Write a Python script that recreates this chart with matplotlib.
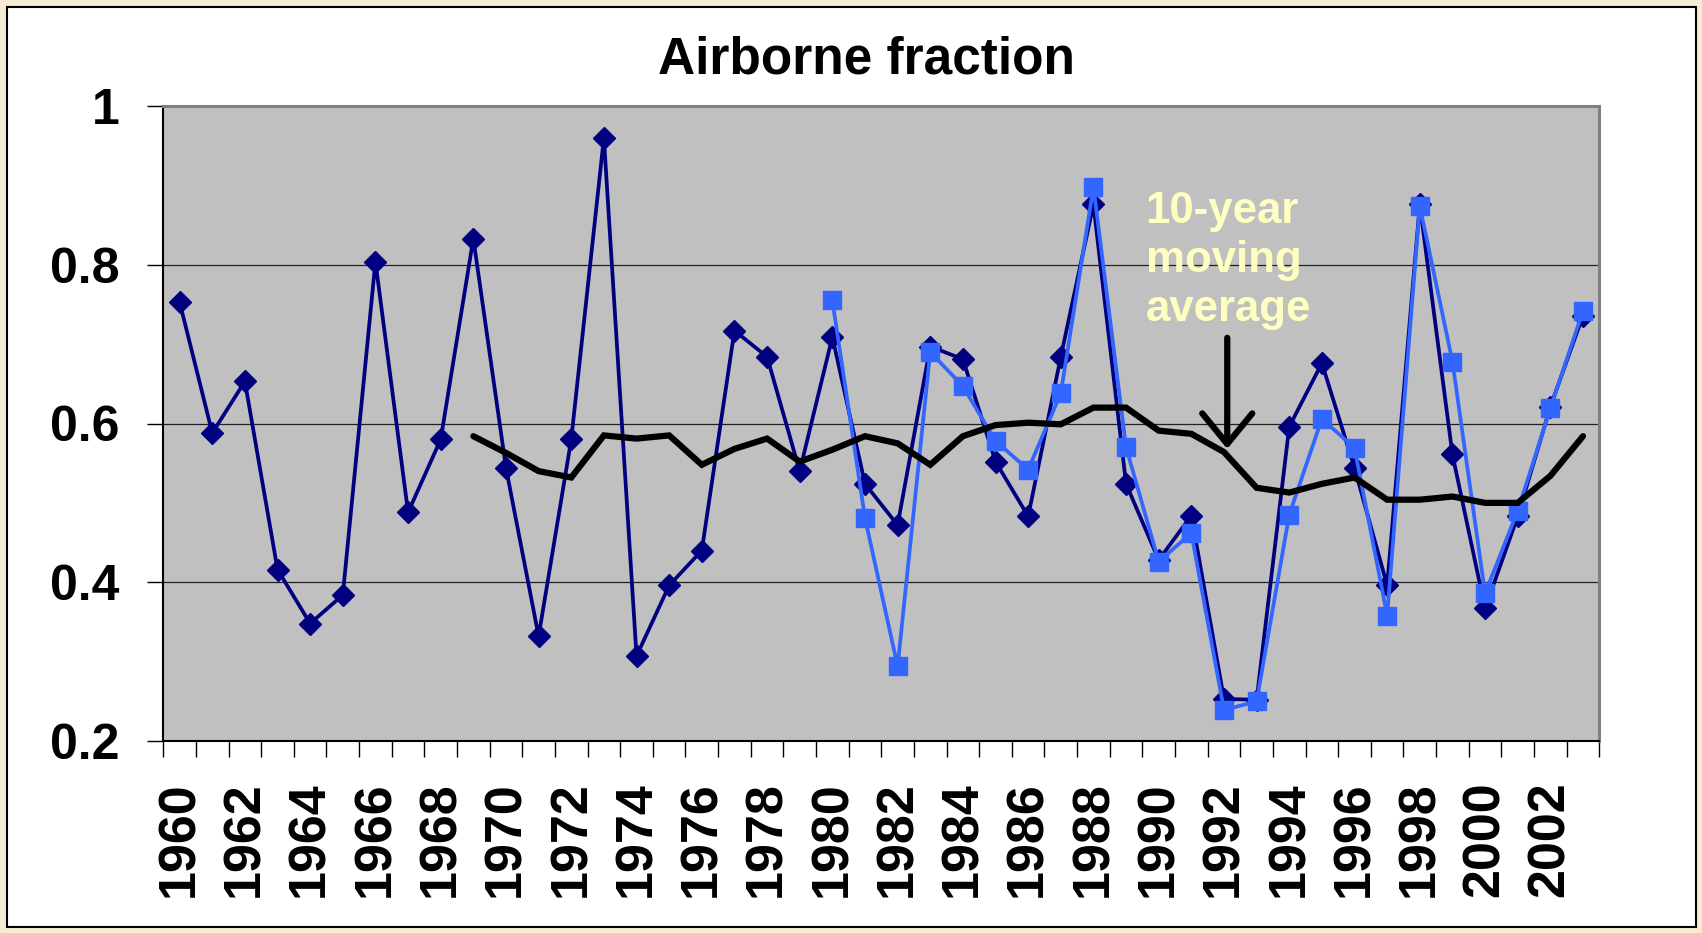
import numpy as np
import matplotlib
matplotlib.use("Agg")
from matplotlib import pyplot as plt
from matplotlib.patches import Rectangle

plt.rcParams['font.family'] = ['Liberation Sans', 'DejaVu Sans']
plt.rcParams['font.weight'] = 'bold'

years = list(range(1960, 2004))
tick_labels = ["1960", "1962", "1964", "1966", "1968", "1970", "1972", "1974",
               "1976", "1978", "1980", "1982", "1984", "1986", "1988", "1990",
               "1992", "1994", "1996", "1998", "2000", "2002"]

# airborne fraction, 1960-2003 (navy diamonds)
af_navy = [0.753, 0.588, 0.653, 0.416, 0.348, 0.384, 0.804, 0.488, 0.580, 0.833,
           0.544, 0.332, 0.580, 0.960, 0.307, 0.396, 0.440, 0.717, 0.684, 0.540,
           0.709, 0.524, 0.472, 0.697, 0.681, 0.552, 0.483, 0.684, 0.876, 0.524,
           0.428, 0.484, 0.253, 0.252, 0.596, 0.676, 0.544, 0.396, 0.876, 0.561,
           0.367, 0.483, 0.621, 0.736]

# second estimate, 1980-2003 (light blue squares)
af_blue_start = 1980
af_blue = [0.755, 0.481, 0.294, 0.690, 0.647, 0.578, 0.542, 0.638, 0.898, 0.570,
           0.426, 0.462, 0.239, 0.250, 0.485, 0.606, 0.569, 0.358, 0.874, 0.678,
           0.386, 0.490, 0.619, 0.742]

# 10-year moving average, 1969-2003
ma_start = 1969
ma10 = [0.584, 0.563, 0.540, 0.532, 0.585, 0.581, 0.585, 0.548, 0.568, 0.581,
        0.552, 0.567, 0.584, 0.575, 0.548, 0.584, 0.598, 0.601, 0.599, 0.620,
        0.620, 0.591, 0.587, 0.564, 0.519, 0.513, 0.524, 0.532, 0.504, 0.504,
        0.508, 0.500, 0.500, 0.534, 0.584]

W, H = 1702, 933
fig = plt.figure(figsize=(W / 100, H / 100), dpi=100)
fig.patch.set_facecolor('#F7ECD3')
fig.patches.append(Rectangle((7 / W, 1 - 927 / H), (1696 - 7) / W, (927 - 7) / H,
                             transform=fig.transFigure, facecolor='white',
                             edgecolor='black', linewidth=1.5, zorder=-5))

left, right, top, bottom = 163.3, 1599.3, 106, 741
ax = fig.add_axes([left / W, 1 - bottom / H, (right - left) / W, (bottom - top) / H])
ax.set_facecolor('#C0C0C0')

idx = np.arange(len(years))
blue_x = idx[years.index(af_blue_start):]
ma_x = idx[years.index(ma_start):]

ax.plot(idx, af_navy, '-', color='#000080', lw=2.7, marker='D', ms=11.5,
        markerfacecolor='#000080', markeredgecolor='#000080', zorder=3)
ax.plot(blue_x, af_blue, '-', color='#3366FF', lw=2.7, marker='s', ms=13,
        markerfacecolor='#3366FF', markeredgecolor='#3366FF', zorder=4)
ax.plot(ma_x, ma10, '-', color='black', lw=4.5, solid_joinstyle='miter',
        solid_capstyle='round', zorder=5)

ax.set_xlim(-0.5, len(years) - 0.5)
ax.set_ylim(0.2, 1.0)

# y axis
ax.set_yticks([0.2, 0.4, 0.6, 0.8, 1.0], ["0.2", "0.4", "0.6", "0.8", "1"])
ax.tick_params(axis='y', direction='out', length=11.5, width=1, pad=20,
               labelsize=36, colors='black')
ax.yaxis.grid(True, color='#222222', lw=0.9)
ax.set_axisbelow(True)

# x axis: ticks between categories, labels every second year
ax.set_xticks(np.arange(-0.5, len(years), 1.0), [])
ax.tick_params(axis='x', which='major', direction='out', length=11.5, width=1)
ax.set_xticks(idx[::2], tick_labels, minor=True)
ax.tick_params(axis='x', which='minor', length=0, pad=29, labelsize=37.5,
               labelrotation=90)

for s in ['left', 'bottom']:
    ax.spines[s].set_color('black')
    ax.spines[s].set_linewidth(1.5)
for s in ['top', 'right']:
    ax.spines[s].set_color('#808080')
    ax.spines[s].set_linewidth(2.2)

fig.text(866 / W, 1 - 73 / H, "Airborne fraction", ha='center', va='baseline',
         fontsize=37, fontweight='bold')

ax.text(years.index(1990) - 0.4, 0.893, "10-year\nmoving\naverage", ha='left',
        va='top', fontsize=31.5, fontweight='bold', color='#FFFFC0', zorder=6,
        linespacing=1.25)
ax.annotate("", xy=(years.index(1992) + 0.1, 0.568),
            xytext=(years.index(1992) + 0.1, 0.708),
            arrowprops=dict(arrowstyle='->,head_length=0.55,head_width=0.45',
                            color='black', lw=4.5, shrinkA=0, shrinkB=0,
                            mutation_scale=40), zorder=6)

fig.savefig("out.png", dpi=100, facecolor=fig.get_facecolor())
